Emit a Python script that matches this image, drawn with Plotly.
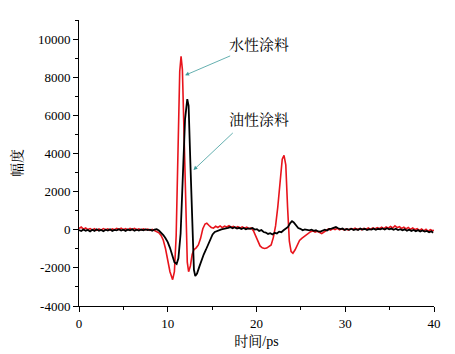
import plotly.graph_objects as go

# 水性涂料 (red)
red_x = [0.00,0.25,0.50,0.75,1.00,1.25,1.50,1.75,2.00,2.25,2.50,2.75,3.00,3.25,3.50,3.75,4.00,4.25,4.50,4.75,
         5.00,5.25,5.50,5.75,6.00,6.25,6.50,6.75,7.00,7.25,7.50,7.75,8.00,8.25,8.50,8.75,9.00,9.25,9.50,9.75,
         10.00,10.25,10.55,10.75,10.95,11.15,11.35,11.50,11.65,11.85,12.05,12.20,12.35,12.55,12.75,12.95,13.20,13.45,13.70,13.95,
         14.20,14.40,14.65,14.90,15.15,15.40,15.65,15.90,16.15,16.40,16.65,16.90,17.15,17.40,17.65,17.90,18.15,18.40,18.65,18.90,
         19.15,19.40,19.65,19.90,20.15,20.40,20.65,20.90,21.15,21.40,21.65,21.90,22.15,22.40,22.65,22.90,23.10,23.30,23.50,23.70,
         23.90,24.10,24.35,24.60,24.85,25.10,25.35,25.60,25.85,26.10,26.35,26.60,26.85,27.10,27.35,27.60,27.85,28.10,28.35,28.60,
         28.85,29.10,29.35,29.60,29.85,30.10,30.35,30.60,30.85,31.10,31.35,31.60,31.85,32.10,32.35,32.60,32.85,33.10,33.35,33.60,
         33.85,34.10,34.35,34.60,34.85,35.10,35.35,35.60,35.85,36.10,36.35,36.60,36.85,37.10,37.35,37.60,37.85,38.10,38.35,38.60,
         38.85,39.10,39.35,39.60,39.85,40.00]
red_y = [60,140,30,90,10,60,-10,50,-30,40,-10,60,0,50,-20,40,0,70,10,80,
         0,60,-10,70,10,70,0,50,-10,40,0,30,-30,20,-40,-90,-160,-300,-550,-1000,
         -1600,-2200,-2620,-2200,-300,4000,8300,9100,8400,4800,400,-1700,-2200,-1900,-1300,-1050,-950,-800,-450,50,
         300,340,220,120,80,180,120,200,110,190,140,210,130,180,100,160,90,150,80,130,
         60,90,-50,-300,-600,-850,-950,-980,-960,-900,-800,-400,200,1200,2600,3700,3900,3400,1200,-600,
         -1150,-1230,-1050,-800,-560,-450,-350,-250,-180,-100,-60,-120,-80,-150,-200,-120,-30,40,-20,60,
         10,70,0,50,-10,40,-20,60,20,80,10,60,0,70,30,90,20,100,40,110,
         50,130,60,150,80,170,90,200,110,160,70,130,40,120,20,90,0,60,-30,40,
         -60,20,-80,0,-50,-20]

# 油性涂料 (black)
blk_x = [0.00,0.25,0.50,0.75,1.00,1.25,1.50,1.75,2.00,2.25,2.50,2.75,3.00,3.25,3.50,3.75,4.00,4.25,4.50,4.75,
         5.00,5.25,5.50,5.75,6.00,6.25,6.50,6.75,7.00,7.25,7.50,7.75,8.00,8.25,8.50,8.75,9.00,9.25,9.50,9.75,
         10.00,10.25,10.50,10.75,11.00,11.20,11.45,11.70,11.95,12.20,12.35,12.55,12.75,12.95,13.10,13.30,13.55,13.80,14.05,14.30,
         14.55,14.80,15.05,15.30,15.55,15.80,16.05,16.30,16.55,16.80,17.05,17.30,17.55,17.80,18.05,18.30,18.55,18.80,19.05,19.30,
         19.55,19.80,20.05,20.30,20.55,20.80,21.05,21.30,21.55,21.80,22.05,22.30,22.55,22.80,23.05,23.30,23.55,23.80,24.00,24.20,
         24.45,24.70,24.95,25.20,25.45,25.70,25.95,26.20,26.45,26.70,26.95,27.20,27.45,27.70,27.95,28.20,28.45,28.70,28.95,29.20,
         29.45,29.70,29.95,30.20,30.45,30.70,30.95,31.20,31.45,31.70,31.95,32.20,32.45,32.70,32.95,33.20,33.45,33.70,33.95,34.20,
         34.45,34.70,34.95,35.20,35.45,35.70,35.95,36.20,36.45,36.70,36.95,37.20,37.45,37.70,37.95,38.20,38.45,38.70,38.95,39.20,
         39.45,39.70,39.90]
blk_y = [-20,-70,10,-50,-10,-90,0,-60,20,-50,-10,-80,0,-40,20,-60,-10,-30,30,-40,
         0,-60,10,-30,20,-50,0,-40,10,-30,20,-20,0,-50,10,30,-40,-150,-280,-450,
         -650,-950,-1350,-1700,-1800,-1500,-200,2500,5800,6850,6500,3500,0,-2100,-2430,-2300,-1950,-1600,-1300,-1050,
         -750,-450,-250,-120,-60,-20,20,40,60,100,140,80,130,60,100,40,90,20,70,50,
         90,10,30,-60,-20,-120,-150,-220,-180,-250,-160,-200,-100,-130,-30,50,150,350,450,380,
         200,90,50,-30,20,-20,-30,0,-60,-30,-90,-100,-50,0,-40,40,60,100,140,80,
         30,60,-10,40,0,50,-20,30,-10,60,10,50,-20,30,10,60,0,50,20,70,
         10,80,20,60,0,50,-20,30,-30,20,-50,0,-60,-10,-80,-20,-90,-40,-100,-60,
         -130,-80,-160]

y_ticks = [-4000, -2000, 0, 2000, 4000, 6000, 8000, 10000]
y_tick_labels = ["-4000", "-2000", "0", "2000", "4000", "6000", "8000", "10000"]
x_ticks = [0, 10, 20, 30, 40]

serif = "Liberation Serif, Noto Serif CJK SC, Noto Sans CJK SC, serif"

fig = go.Figure()
fig.add_trace(go.Scatter(x=red_x, y=red_y, mode="lines", name="水性涂料",
                         line=dict(color="#e8141c", width=1.6)))
fig.add_trace(go.Scatter(x=blk_x, y=blk_y, mode="lines", name="油性涂料",
                         line=dict(color="#000000", width=1.8)))

ann_color = "#3f9c9c"
fig.add_annotation(x=20.3, y=9700, text="水性涂料", showarrow=False,
                   font=dict(family=serif, size=15, color="black"))
fig.add_annotation(x=11.95, y=8100, ax=17.2, ay=9150, axref="x", ayref="y",
                   text="", showarrow=True, arrowhead=2, arrowsize=1, arrowwidth=0.8,
                   arrowcolor=ann_color)
fig.add_annotation(x=20.3, y=5750, text="油性涂料", showarrow=False,
                   font=dict(family=serif, size=15, color="black"))
fig.add_annotation(x=12.9, y=3130, ax=17.5, ay=5150, axref="x", ayref="y",
                   text="", showarrow=True, arrowhead=2, arrowsize=1, arrowwidth=0.8,
                   arrowcolor=ann_color)

# page body adds an 8px margin, so the figure is sized/offset to compensate
fig.update_layout(
    width=447, height=346,
    margin=dict(l=71, r=21, t=12, b=48, autoexpand=False),
    paper_bgcolor="white", plot_bgcolor="white",
    showlegend=False,
    font=dict(family=serif, size=13, color="black"),
)
fig.update_xaxes(range=[0, 40], tickvals=x_ticks, ticks="outside", ticklen=5,
                 tickcolor="black", showline=True, linecolor="black", linewidth=1,
                 showgrid=False, zeroline=False, automargin=False,
                 minor=dict(dtick=5, ticks="outside", ticklen=3, tickcolor="black"),
                 title=dict(text="时间/ps", font=dict(size=14, family=serif), standoff=6),
                 tickfont=dict(size=13, family=serif))
fig.update_yaxes(range=[-4000, 11000], tickvals=y_ticks, ticktext=y_tick_labels,
                 ticks="outside", ticklen=5, tickcolor="black",
                 showline=True, linecolor="black", linewidth=1,
                 showgrid=False, zeroline=False, automargin=False,
                 minor=dict(dtick=1000, ticks="outside", ticklen=3, tickcolor="black"),
                 title=dict(text="幅度", font=dict(size=14, family=serif), standoff=12),
                 tickfont=dict(size=13, family=serif))

fig.write_html("out.html")
